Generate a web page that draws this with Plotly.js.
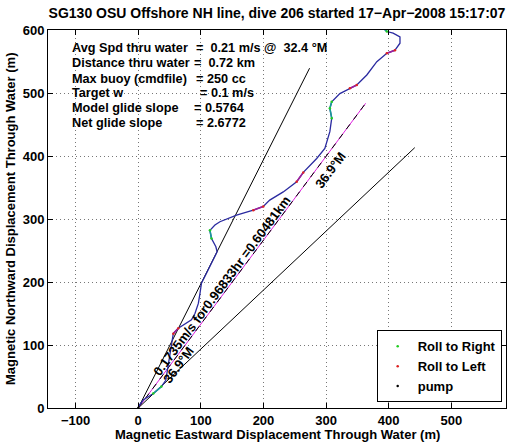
<!DOCTYPE html>
<html>
<head>
<meta charset="utf-8">
<script src="https://cdn.plot.ly/plotly-3.0.1.min.js"></script>
<style>
html,body{margin:0;padding:0;background:#fff;}
#chart{width:514px;height:442px;}
</style>
</head>
<body>
<div id="chart"></div>
<script>
// ---- data ----
var trackX = [0, 8, 24, 37, 44, 48, 52, 56, 64, 72, 85, 90.6, 96, 98.6, 101, 109, 120, 126, 124, 117, 114.5, 122.5, 130.5, 157, 183.7, 199.7, 210, 231.6, 253, 263.6, 285, 298, 306, 309, 306, 309, 322, 338, 349, 365, 381, 397, 410, 418, 418, 407, 397, 389];
var trackY = [2, 12.7, 23, 34, 44, 70, 95, 118, 126.5, 132, 140, 150, 166, 182, 198, 214, 235, 248, 256, 269, 282, 290.5, 295.7, 306, 314, 320, 330, 343, 359, 374, 396, 412, 438.6, 460, 475.7, 486, 499, 507.5, 512.7, 528.6, 549.7, 563, 568, 579, 589, 595, 597.6, 605];

var rollRightX = [24, 37, null, 117, 114.5, null, 309, 306, 309, null, 397, 389];
var rollRightY = [23, 34, null, 269, 282, null, 460, 475.7, 486, null, 597.6, 605];
var rollLeftX = [56, 64, null, 183.7, 199.7, null, 253, 263.6, null, 338, 349, null, 397, 410];
var rollLeftY = [118, 126.5, null, 314, 320, null, 359, 374, null, 507.5, 512.7, null, 563, 568];
var pumpX = [0];
var pumpY = [0];

var meanHeading = 36.9;        // deg magnetic
var headingSpread = [26.9, 46.9];
var netDistance = 604.81;      // m (0.60481 km)

var infoLabels = ["Avg Spd thru water", "Distance thru water", "Max buoy (cmdfile)", "Target w", "Model glide slope", "Net glide slope"];
var infoValues = ["=\u00a0\u00a00.21 m/s @\u00a0\u00a032.4 \u00b0M", "=\u00a0\u00a00.72 km", "= 250 cc", "= 0.1 m/s", "= 0.5764", "= 2.6772"];

var xTicks = [-100, 0, 100, 200, 300, 400, 500];
var yTicks = [0, 100, 200, 300, 400, 500, 600];

// ---- helpers ----
function rad(d){ return d*Math.PI/180; }
function endX(h){ return netDistance*Math.sin(rad(h)); }
function endY(h){ return netDistance*Math.cos(rad(h)); }

var FAM = "Liberation Sans, Arial, Helvetica, sans-serif";
var F = {family: FAM, size: 13, color: "#000", weight: "bold"};
var FI = {family: FAM, size: 12.7, color: "#000", weight: "bold"};
var FT = {family: FAM, size: 14, color: "#000", weight: "bold"};

var traces = [];
headingSpread.forEach(function(h){
  traces.push({x:[0, endX(h)], y:[0, endY(h)], mode:'lines', line:{color:'#000', width:1}, showlegend:false, hoverinfo:'skip'});
});
traces.push({x:[0, endX(meanHeading)], y:[0, endY(meanHeading)], mode:'lines', line:{color:'#e020e0', width:1}, showlegend:false, hoverinfo:'skip'});
traces.push({x:[0, endX(meanHeading)], y:[0, endY(meanHeading)], mode:'lines', line:{color:'#000', width:1, dash:'6px,6px'}, showlegend:false, hoverinfo:'skip'});
traces.push({x:trackX, y:trackY, mode:'lines', line:{color:'#2a2aa0', width:1.3}, showlegend:false, hoverinfo:'skip'});
traces.push({x:rollRightX, y:rollRightY, mode:'lines', line:{color:'#1a9a9a', width:1.6}, showlegend:false, hoverinfo:'skip', connectgaps:false});
traces.push({x:rollLeftX, y:rollLeftY, mode:'lines', line:{color:'#a0209a', width:1.6}, showlegend:false, hoverinfo:'skip', connectgaps:false});
traces.push({x:rollRightX, y:rollRightY, mode:'markers', name:'Roll to Right', marker:{color:'#22cc22', size:2.5}, hoverinfo:'skip'});
traces.push({x:rollLeftX, y:rollLeftY, mode:'markers', name:'Roll to Left', marker:{color:'#dd2222', size:2.5}, hoverinfo:'skip'});
traces.push({x:pumpX, y:pumpY, mode:'markers', name:'pump', marker:{color:'#000', size:2.5}, hoverinfo:'skip'});

var annotations = [];
var labelX = -106.7;
var valueX = [90.2, 87.0, 90.2, 96.6, 87.0, 90.2];
var lineY = [571.2, 547.4, 522.5, 499.8, 476.1, 452.3];
infoLabels.forEach(function(t, i){
  annotations.push({x:labelX, y:lineY[i], xref:'x', yref:'y', text:t, showarrow:false, xanchor:'left', yanchor:'middle', font:FI, borderpad:0});
  annotations.push({x:valueX[i], y:lineY[i], xref:'x', yref:'y', text:infoValues[i], showarrow:false, xanchor:'left', yanchor:'middle', font:FI, borderpad:0});
});
var ang = -53.3;
annotations.push({x:134.1, y:193.9, xref:'x', yref:'y', text:'0.1735m/s for0.96833hr =0.60481km', showarrow:false, textangle:ang, font:F});
annotations.push({x:306.5, y:377, xref:'x', yref:'y', text:'36.9\u00b0M', showarrow:false, textangle:ang, font:F});
annotations.push({x:63.6, y:67.4, xref:'x', yref:'y', text:'36.9\u00b0M', showarrow:false, textangle:ang, font:F});
// axis titles
annotations.push({x:0.5, y:-(434.5-408)/378, xref:'paper', yref:'paper', text:'Magnetic Eastward Displacement Through Water (m)', showarrow:false, xanchor:'center', yanchor:'middle', font:F, borderpad:0});
annotations.push({x:-(48-10)/458, y:0.5, xref:'paper', yref:'paper', text:'Magnetic Northward Displacement Through Water (m)', showarrow:false, xanchor:'center', yanchor:'middle', textangle:-90, font:F, borderpad:0});

var axisCommon = {
  showline:true, linecolor:'#000', linewidth:1, mirror:'allticks',
  ticks:'inside', ticklen:5, tickcolor:'#000', tickwidth:1,
  showgrid:true, gridcolor:'#777', griddash:'1px,3px', gridwidth:1,
  zeroline:false, tickfont:F, automargin:false, fixedrange:true
};

var layout = {
  width:514, height:442,
  margin:{l:48, r:8, t:30, b:34},
  paper_bgcolor:'#fff', plot_bgcolor:'#fff',
  font:F,
  title:{text:'SG130 OSU Offshore NH line, dive 206 started 17\u2212Apr\u22122008 15:17:07', font:FT, x:0.5, xref:'paper', xanchor:'center', y:1-13.3/442, yref:'container', yanchor:'middle'},
  xaxis:Object.assign({}, axisCommon, {range:[-144.1, 587.3], tickvals:xTicks, ticktext:xTicks.map(function(v){return v<0 ? '\u2212'+Math.abs(v) : String(v);})}),
  yaxis:Object.assign({}, axisCommon, {range:[0, 600], tickvals:yTicks}),
  legend:{x:0.9906, y:0.015, xanchor:'right', yanchor:'bottom', bgcolor:'#fff', bordercolor:'#000', borderwidth:1, font:F, itemsizing:'trace'},
  annotations:annotations,
  showlegend:true
};

Plotly.newPlot('chart', traces, layout, {staticPlot:true, displayModeBar:false});
</script>
</body>
</html>
